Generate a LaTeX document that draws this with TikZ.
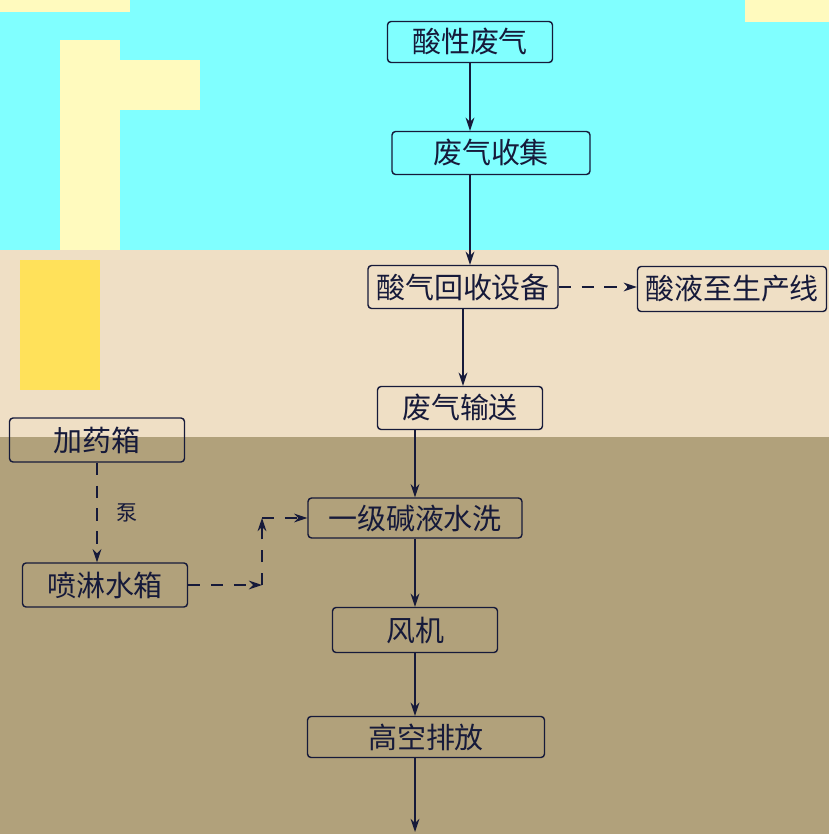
\documentclass[tikz,border=0pt]{standalone}
\usepackage{fontspec}
\newfontfamily\cjk{Noto Sans CJK SC}
\usetikzlibrary{arrows.meta}
\definecolor{skyband}{RGB}{128,255,255}
\definecolor{sandband}{RGB}{239,223,197}
\definecolor{clayband}{RGB}{177,161,123}
\definecolor{paleyellow}{RGB}{255,250,190}
\definecolor{goldpatch}{RGB}{255,225,90}
\definecolor{navyink}{RGB}{22,26,58}

\begin{document}
\begin{tikzpicture}[x=0.02cm,y=-0.02cm,
  stepbox/.style={draw=navyink,line width=0.8pt,rounded corners=2pt,inner sep=0pt,
    font=\cjk\fontsize{16.5}{18}\selectfont,text=navyink},
  flow/.style={navyink,line width=0.9pt,-{Stealth[length=7.5pt,width=5pt]}},
  dashflow/.style={flow,dash pattern=on 7pt off 6pt}]
  % background bands
  \useasboundingbox (0,0) rectangle (829,834);
  \fill[skyband] (0,0) rectangle (829,250);
  \fill[sandband] (0,250) rectangle (829,437);
  \fill[clayband] (0,437) rectangle (829,834);
  \fill[paleyellow] (0,0) rectangle (130,12);
  \fill[paleyellow] (745,0) rectangle (829,22);
  \fill[paleyellow] (60,40) rectangle (120,250);
  \fill[paleyellow] (120,60) rectangle (200,110);
  \fill[goldpatch] (20,260) rectangle (100,390);

  % main line
  \node[stepbox,minimum width=3.3cm,minimum height=0.82cm] (acid) at (470,42) {酸性废气};
  \node[stepbox,minimum width=3.96cm,minimum height=0.86cm] (collect) at (491,153) {废气收集};
  \node[stepbox,minimum width=3.8cm,minimum height=0.86cm] (recov) at (463,287) {酸气回收设备};
  \node[stepbox,minimum width=3.78cm,minimum height=0.9cm] (line) at (732,289) {酸液至生产线};
  \node[stepbox,minimum width=3.3cm,minimum height=0.86cm] (transport) at (460,408) {废气输送};
  \node[stepbox,minimum width=4.28cm,minimum height=0.8cm] (wash) at (415,518) {一级碱液水洗};
  \node[stepbox,minimum width=3.3cm,minimum height=0.9cm] (fan) at (415,630) {风机};
  \node[stepbox,minimum width=4.74cm,minimum height=0.82cm] (stack) at (426,737) {高空排放};
  \coordinate (out) at (415,832);

  % dosing side
  \node[stepbox,minimum width=3.5cm,minimum height=0.88cm] (dose) at (97,440) {加药箱};
  \node[stepbox,minimum width=3.3cm,minimum height=0.88cm] (spray) at (105,585) {喷淋水箱};
  \node[font=\cjk\fontsize{12}{14}\selectfont,text=navyink] (pump) at (127,513) {泵};
  \coordinate (c1) at (262,585);
  \coordinate (c2) at (262,518);

  \draw[flow] (acid.south) -- (acid.south |- collect.north);
  \draw[flow] (collect.south -| acid.south) -- (recov.north -| acid.south);
  \draw[dashflow] (recov.east) -- (line.west |- recov.east);
  \draw[flow] (recov.south) -- (recov.south |- transport.north);
  \draw[flow] (transport.south -| wash.north) -- (wash.north);
  \draw[flow] (wash.south) -- (fan.north);
  \draw[flow] (fan.south) -- (stack.north -| fan.south);
  \draw[flow] (stack.south -| fan.south) -- (out);

  \draw[dashflow] (dose.south) -- (dose.south |- spray.north);
  \draw[dashflow] (spray.east) -- (c1);
  \draw[dashflow] (c1) -- (c2);
  \draw[dashflow] (c2) -- (wash.west);
\end{tikzpicture}
\end{document}
